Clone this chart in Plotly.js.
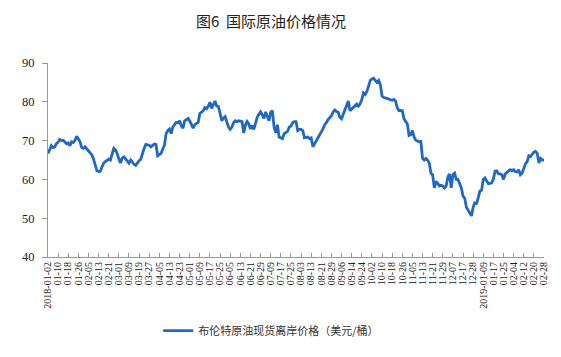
<!DOCTYPE html>
<html>
<head>
<meta charset="utf-8">
<script src="https://cdn.plot.ly/plotly-3.0.1.min.js"></script>
<style>html,body{margin:0;padding:0;background:#fff;}#chart{width:561px;height:357px;}</style>
</head>
<body>
<div id="chart"></div>
<script>
// Tick labels (every 6th trading day)
const tickLabels = ["2018-01-02","01-10","01-18","01-26","02-05","02-13","02-21","03-01","03-09","03-19",
  "03-27","04-05","04-13","04-23","05-01","05-09","05-17","05-25","06-05","06-13",
  "06-21","06-29","07-09","07-17","07-25","08-03","08-13","08-21","08-29","09-06",
  "09-14","09-24","10-02","10-10","10-18","10-26","11-05","11-13","11-21","11-29",
  "12-07","12-17","12-28","2019-01-09","01-17","01-25","02-04","02-12","02-20","02-28"];
const tickStep = 6;

// Brent FOB spot price (USD/barrel), one value per trading day
const brentPrice = [
  66.7,67.8,68.7,68.2,68.4,69.2,69.6,70.3,70.0,70.1,
  69.5,69.2,69.4,68.7,69.7,69.5,70.1,71.1,70.4,69.7,
  68.2,68.0,68.4,67.9,67.5,67.0,66.3,65.2,63.7,62.2,
  62.0,62.1,63.2,64.2,64.6,65.0,65.2,65.0,66.7,68.0,
  67.6,66.7,65.3,64.2,65.5,65.8,65.3,64.8,64.2,65.0,
  64.3,63.9,63.6,64.4,64.8,65.2,67.0,68.0,69.0,68.9,
  68.8,68.4,68.8,69.1,69.0,66.1,66.4,66.7,67.8,68.8,
  71.8,72.6,73.0,71.8,73.5,74.2,74.7,74.6,75.1,73.8,
  73.2,75.1,75.4,75.7,75.1,74.0,73.2,74.1,74.3,74.7,
  77.0,77.4,77.7,78.5,78.2,78.9,79.9,78.3,79.5,80.2,
  78.9,78.8,77.0,75.1,75.8,76.2,74.8,73.5,72.9,73.5,
  74.6,75.1,74.9,75.1,75.0,74.9,72.0,74.0,74.9,74.3,
  73.0,73.9,72.9,74.5,76.0,76.8,77.4,76.6,75.7,77.4,
  76.0,75.1,77.3,77.7,73.5,72.0,74.1,70.9,70.7,70.5,
  71.8,72.0,72.4,73.5,73.7,74.6,74.9,74.9,72.6,72.9,
  72.9,72.6,70.7,70.8,70.9,70.5,70.7,68.4,69.2,69.6,
  70.5,71.3,72.2,73.0,74.1,74.6,75.4,76.0,76.4,77.4,
  77.9,77.5,77.3,76.0,75.6,76.8,77.8,78.9,80.2,77.7,
  78.1,78.5,79.1,79.4,78.9,79.5,80.6,82.3,81.9,82.7,
  84.0,85.5,85.9,86.1,85.5,85.0,85.5,84.4,81.5,81.1,
  81.0,80.8,80.6,80.5,80.4,80.6,80.2,78.5,77.7,77.8,
  77.7,75.6,75.0,74.3,71.3,71.5,72.6,70.9,70.1,69.9,
  69.7,69.8,65.4,65.0,65.4,65.0,64.2,61.6,61.2,57.8,
  59.5,59.0,58.3,58.5,58.3,57.8,58.3,60.6,61.4,57.8,
  61.2,61.6,60.0,60.0,59.1,57.8,55.7,55.2,52.8,52.0,
  51.5,50.6,52.8,54.1,53.6,55.7,57.0,57.2,60.0,60.4,
  59.5,58.9,59.0,59.1,60.1,62.1,62.2,61.4,61.4,61.2,
  60.0,61.4,61.8,62.1,62.5,62.2,62.5,62.0,61.9,62.5,
  61.2,61.6,62.9,64.0,64.6,66.1,65.9,66.5,67.0,67.2,
  66.7,64.2,65.4,65.0,65.0
];
const seriesName = "布伦特原油现货离岸价格（美元/桶）";
const titleText = "图6  国际原油价格情况";

const xIdx = brentPrice.map((_, i) => i);
const tickVals = tickLabels.map((_, i) => i * tickStep);

const trace = {
  x: xIdx, y: brentPrice, type: "scatter", mode: "lines", name: seriesName,
  line: {color: "#2068c3", width: 2.8}
};

const layout = {
  width: 561, height: 357,
  margin: {l: 48, r: 17, t: 63, b: 96},
  paper_bgcolor: "#fff", plot_bgcolor: "#fff",
  title: {text: titleText, x: 0.483, xanchor: "center", y: 0.938, yanchor: "middle",
    font: {family: "Noto Sans CJK SC", size: 15, color: "#222"}},
  showlegend: true,
  legend: {orientation: "h", x: 0.45, xanchor: "center", y: -0.38, yanchor: "middle",
    font: {family: "Noto Sans CJK SC", size: 11, color: "#333"}, itemwidth: 30},
  xaxis: {
    range: [0, brentPrice.length - 1], tickmode: "array", tickvals: tickVals, ticktext: tickLabels,
    tickangle: -90, ticks: "inside", ticklen: 4, tickcolor: "#999", showline: true, linecolor: "#999",
    linewidth: 1, showgrid: false, zeroline: false,
    tickfont: {family: "Liberation Serif", size: 10, color: "#222"}
  },
  yaxis: {
    range: [40, 90], dtick: 10, ticks: "outside", ticklen: 5, tickcolor: "#999", showline: true,
    linecolor: "#999", linewidth: 1, showgrid: false, zeroline: false, ticklabelstandoff: 5,
    tickfont: {family: "Liberation Serif", size: 12.5, color: "#222"}
  }
};

Plotly.newPlot("chart", [trace], layout, {displayModeBar: false, staticPlot: true});
</script>
</body>
</html>
